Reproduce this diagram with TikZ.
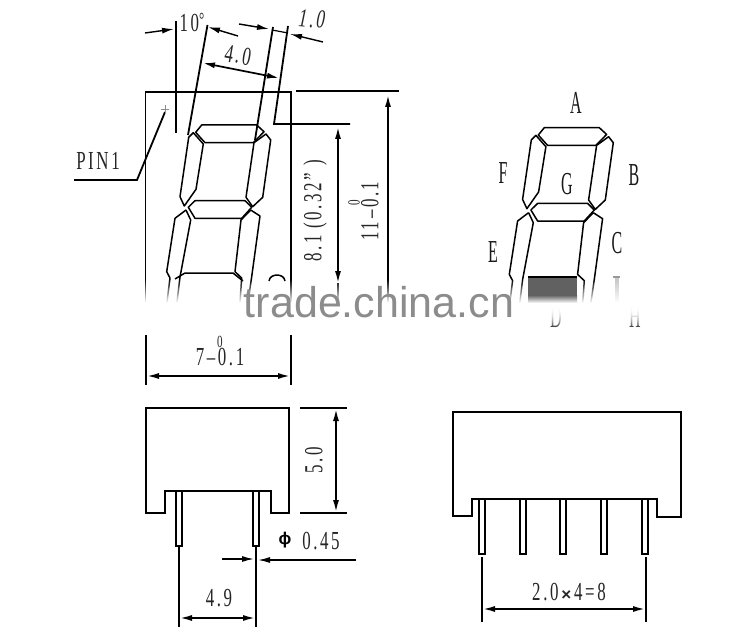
\documentclass[tikz,border=0pt]{standalone}
\usepackage{fontspec}
\usepackage{tikz}
\usetikzlibrary{arrows.meta, fadings, calc}
\newfontfamily\dimfont[FakeStretch=0.65, LetterSpace=10]{Liberation Serif}
\newfontfamily\letterfont[FakeStretch=0.5]{Liberation Serif}
\newfontfamily\markfont{Liberation Sans}

\tikzfading[name=fadedown, top color=transparent!100, bottom color=transparent!0]
\tikzfading[name=fadeup, top color=transparent!0, bottom color=transparent!100]

\tikzset{
  outline/.style={line width=1.8pt, black},
  seg/.style={line width=1.5pt, black, line join=round},
  dimline/.style={line width=1.7pt, black, {Latex[length=12pt,width=6pt]}-{Latex[length=12pt,width=6pt]}},
  oneway/.style={line width=1.4pt, black, -{Latex[length=12pt,width=6pt]}},
  dimtext/.style={font=\dimfont\fontsize{26}{26}\selectfont, text=black!85, inner sep=0pt},
  zerotext/.style={font=\dimfont\fontsize{17}{17}\selectfont, text=black!85, inner sep=0pt},
  lettertext/.style={font=\letterfont\fontsize{32}{32}\selectfont, text=black!90, inner sep=0pt},
  marktext/.style={font=\markfont\fontsize{43}{43}\selectfont, text=black!45, inner sep=0pt},
}

% one digit, left one is the reference position
\newcommand{\digitsegs}{
  \draw[seg] (201.7,125) -- (256.7,125) -- (264,131.7) -- (253.3,142.7) -- (205,142.7) -- (195.7,132.3) -- cycle;
  \draw[seg] (193.3,132.7) -- (203.3,144) -- (196,189.3) -- (184.3,206) -- (180,196.7) -- (188.7,137.3) -- cycle;
  \draw[seg] (266,134) -- (270.7,140) -- (262.7,197.3) -- (252.7,206.7) -- (246,197.3) -- (254,142.7) -- cycle;
  \draw[seg] (195,200.7) -- (245,200.7) -- (251.7,207.3) -- (241.7,218.3) -- (195,218.3) -- (188.3,207.3) -- cycle;
  \draw[seg] (186,210) -- (175,218.3) -- (166.7,271.7) -- (170,278) -- (167,302);
  \draw[seg] (186,210) -- (190.7,220) -- (180,277) -- (177,302);
  \draw[seg] (250.7,210) -- (260,216) -- (251.7,276.7) -- (248,302);
  \draw[seg] (250.7,210) -- (241,220) -- (235,271.7) -- (241.7,278) -- (240,302);
}

\begin{document}
\begin{tikzpicture}[x=1pt, y=-1pt]
  \useasboundingbox (0,0) rectangle (756,634);

  % front view
  \draw[outline] (145.5,302) -- (145.5,92) -- (291,92) -- (291,302);
  \digitsegs
  \draw[seg] (175,279) -- (185,273) -- (233,273) -- (243,281);
  \draw[seg] (269,281) .. controls (270,273) and (284,273) .. (285,281);

  % slanted guides
  \draw[outline] (176,21) -- (176,133);
  \draw[outline] (207.5,25) -- (188,135);
  \draw[outline] (273,27) -- (255,140);
  \draw[outline] (288,26) -- (274,124) -- (350,124);
  \draw[oneway] (145,33) -- (174,29);
  \draw[oneway] (238,36) -- (208,27);
  \draw[oneway] (239,24) -- (269,29);
  \draw[oneway] (323,42) -- (290,34);
  \draw[outline, line width=1.2pt] (272,30) -- (288,33);
  \draw[dimline] (203,63) -- (279,78);
  \node[dimtext] (angletext) at (192,22) {10\raisebox{5pt}{\fontsize{20}{20}\selectfont\textdegree}};
  \node[dimtext, rotate=-10] (widthtext) at (238,55) {4.0};
  \node[dimtext, rotate=-5] (segtext) at (312,19) {\itshape 1.0};

  % pin 1 leader
  \node[dimtext] (pintext) at (98,161) {PIN1};
  \draw[outline] (74,180) -- (137,180) -- (165,112);
  \draw[black!45, line width=.6pt] (161,109) -- (169,109) (165,105) -- (165,113);

  % height dimensions
  \draw[outline] (296,91) -- (399,91);
  \draw[line width=1.7pt, {Latex[length=12pt,width=6pt]}-] (388,95) -- (388,302);
  \draw[line width=1.7pt, {Latex[length=12pt,width=6pt]}-{Latex[length=12pt,width=6pt]}] (338,127) -- (338,283);
  \draw[line width=1.7pt] (338,283) -- (338,302);
  \node[dimtext, rotate=90] (digitheight) at (315,211) {8.1 (0.32” )};
  \node[dimtext, rotate=90] (bodyheight) at (370,211) {11–0.1};
  \node[zerotext, rotate=90] (bodyzero) at (354,203) {0};

  % pin diagram
  \begin{scope}[shift={(342.6,2.7)}]
    \digitsegs
  \end{scope}
  \node[lettertext] (segA) at (576,103) {A};
  \node[lettertext] (segB) at (634,175) {B};
  \node[lettertext] (segC) at (617,243) {C};
  \node[lettertext] (segE) at (493,252) {E};
  \node[lettertext] (segF) at (503,173) {F};
  \node[lettertext] (segG) at (567,184) {G};
  \draw[black!40, line width=1.2pt] (613,277) -- (620,277);
  \draw[black!22, line width=4pt] (616.5,278) -- (616.5,302);

  % washed out band
  \fill[white, path fading=fadedown] (120,279) rectangle (680,303);
  \fill[white] (120,302.5) rectangle (680,333);
  \node[lettertext] (segD) at (556,317) {D};
  \node[lettertext] (segH) at (635,317) {H};
  \foreach \py in {1,2,3} {
    \fill[white, path fading=fadeup] (540,302) rectangle (580,328);
    \fill[white, path fading=fadeup] (620,302) rectangle (650,328);
  }
  \fill[black!62] (528,277) rectangle (577,295);
  \shade[top color=black!62, bottom color=white] (528,295) rectangle (577,303);
  \draw[seg] (528,277) -- (577,277);
  \node[marktext, anchor=base] (watermark) at (379,317) {trade.china.cn};

  % width of the front view
  \draw[outline] (146,335) -- (146,385);
  \draw[outline] (291,335) -- (291,385);
  \draw[dimline] (147,376) -- (290,376);
  \node[dimtext] (bodywidth) at (220,357) {7–0.1};
  \node[zerotext] (widthzero) at (220,342) {0};

  % side view
  \draw[outline] (146,408) -- (289,408) -- (289,513) -- (271,513) -- (271,491) -- (165,491) -- (165,513) -- (146,513) -- cycle;
  \foreach \px in {176,253} {
    \draw[outline] (\px,491) -- (\px,546) -- (\px+6,546) -- (\px+6,491);
  }
  \draw[outline] (300,408) -- (347,408);
  \draw[outline] (300,513) -- (347,513);
  \draw[dimline] (336,409) -- (336,512);
  \node[dimtext, rotate=90] (depthtext) at (314,460) {5.0};
  \node[inner sep=0pt, font=\markfont\bfseries\fontsize{17}{17}\selectfont] (phitext) at (285,540) {ϕ};
  \node[dimtext] (pinwidth) at (321,541) {0.45};
  \draw[oneway] (222,559) -- (254,559);
  \draw[oneway] (356,560) -- (258,560);
  \draw[outline] (179,546) -- (179,627);
  \draw[outline] (256,546) -- (256,627);
  \draw[dimline] (180,618) -- (255,618);
  \node[dimtext] (pitchtext) at (219,598) {4.9};

  % front pins
  \draw[outline] (453,412) -- (681,412) -- (681,517) -- (657,517) -- (657,499) -- (472,499) -- (472,516) -- (453,516) -- cycle;
  \foreach \px in {482.3,522.7,563.3,604.3,645} {
    \draw[outline] (\px-3,499) -- (\px-3,554) -- (\px+3,554) -- (\px+3,499);
  }
  \draw[outline] (482,557) -- (482,622);
  \draw[outline] (646,557) -- (646,622);
  \draw[dimline] (483,609) -- (645,609);
  \node[dimtext] (pinspan) at (569,592) {2.0{\markfont\bfseries\fontsize{17}{17}\selectfont\,×\,}4=8};
\end{tikzpicture}
\end{document}
